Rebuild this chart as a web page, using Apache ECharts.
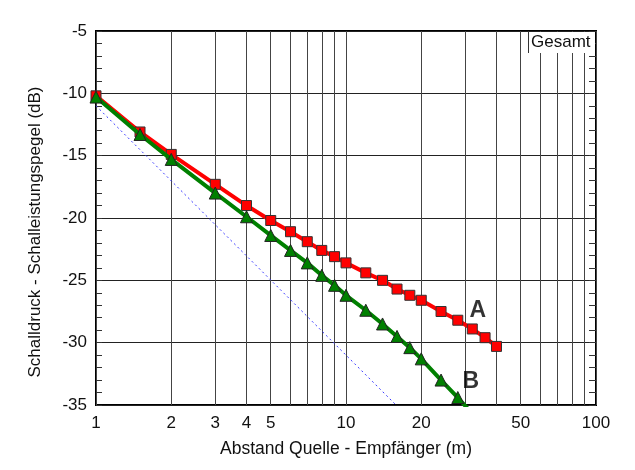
<!DOCTYPE html>
<html><head><meta charset="utf-8">
<script src="https://cdn.jsdelivr.net/npm/echarts@6/dist/echarts.min.js"></script>
<style>html,body{margin:0;padding:0;background:#fff}#c{width:635px;height:470px}</style>
</head><body><div id="c"></div>
<script>
// Distances (m)
const distA = [1,1.5,2,3,4,5,6,7,8,9,10,12,14,16,18,20,24,28,32,36,40];
const levelA = [-10.2,-13.1,-14.9,-17.3,-19.0,-20.2,-21.1,-21.9,-22.6,-23.1,-23.6,-24.4,-25.0,-25.7,-26.2,-26.6,-27.5,-28.2,-28.9,-29.6,-30.3];
const distB = [1,1.5,2,3,4,5,6,7,8,9,10,12,14,16,18,20,24,28,32];
const levelB = [-10.3,-13.3,-15.3,-18.0,-19.9,-21.4,-22.6,-23.6,-24.6,-25.4,-26.2,-27.4,-28.5,-29.5,-30.4,-31.3,-33.0,-34.4,-35.7];
const distRef = [1,10,15.85];
const levelRef = [-11,-31,-35];
const xTicks = [1,2,3,4,5,6,7,8,9,10,20,30,40,50,60,70,80,90,100];
const xLabels = [1,2,3,4,5,10,20,50,100];
const labelA = [33.7,-27.4];
const labelB = [31.6,-33.1];

const zip = (a,b)=>a.map((v,i)=>[v,b[i]]);
const chart = echarts.init(document.getElementById('c'), null, {renderer:'canvas'});
const font = 'Liberation Sans, Arial, sans-serif';
chart.setOption({
  animation:false,
  backgroundColor:'#fff',
  grid:{left:96,right:39,top:31,bottom:65,show:true,borderColor:'#000',borderWidth:2,backgroundColor:'#fff'},
  xAxis:{
    type:'log',logBase:10,min:1,max:100,
    name:'Abstand Quelle - Empfänger (m)',nameLocation:'middle',nameGap:35,
    nameTextStyle:{fontFamily:font,fontSize:17.5,color:'#111'},
    axisLine:{show:false},
    axisTick:{show:false,customValues:xTicks},
    axisLabel:{customValues:xLabels,fontFamily:font,fontSize:17,color:'#111',margin:10},
    splitLine:{show:true,lineStyle:{color:'#444',width:1}},
    minorTick:{show:false},minorSplitLine:{show:false}
  },
  yAxis:[{
    type:'value',min:-35,max:-5,interval:5,
    name:'Schalldruck - Schalleistungspegel (dB)',nameLocation:'middle',nameGap:52,
    nameTextStyle:{fontFamily:font,fontSize:17,color:'#111',padding:[0,28,0,0]},
    axisLine:{show:false},
    axisTick:{show:true,inside:true,length:6,lineStyle:{color:'#333'}},
    minorTick:{show:true,splitNumber:5,length:6,lineStyle:{color:'#333'}},
    axisLabel:{fontFamily:font,fontSize:17,color:'#111',margin:9},
    splitLine:{show:true,lineStyle:{color:'#222',width:1}}
  },{
    type:'value',min:-35,max:-5,interval:5,position:'right',
    axisLine:{show:false},axisTick:{show:true,inside:true,length:7,lineStyle:{color:'#333'}},axisLabel:{show:false},
    minorTick:{show:true,splitNumber:5,length:7,lineStyle:{color:'#333'}},
    splitLine:{show:false}
  }],
  series:[
    {type:'line',data:zip(distRef,levelRef),symbol:'none',lineStyle:{color:'#3b3bff',width:1,type:[2,3]},z:2},
    {type:'line',data:zip(distA,levelA),symbol:'rect',symbolSize:10,
      lineStyle:{color:'#ff0000',width:4},itemStyle:{color:'#ff0000',borderColor:'#333',borderWidth:1},z:3},
    {type:'line',data:zip(distB,levelB),symbol:'triangle',symbolSize:12,
      lineStyle:{color:'#008000',width:4},itemStyle:{color:'#008000',borderColor:'#222',borderWidth:1},z:4},
    {type:'scatter',symbolSize:0,silent:true,data:[{value:labelA,name:'A'},{value:labelB,name:'B'}],
      label:{show:true,position:'inside',formatter:'{b}',fontFamily:font,fontSize:23,fontWeight:'bold',color:'#000'},z:5}
  ],
  graphic:[
    {type:'rect',shape:{x:529,y:32,width:66,height:21},style:{fill:'#fff'},z:50},
    {type:'line',shape:{x1:528.5,y1:31,x2:528.5,y2:53},style:{stroke:'#333',lineWidth:1},z:51},
    {type:'text',x:531,y:34,style:{text:'Gesamt',font:'17px Liberation Sans, Arial, sans-serif',fill:'#111'},z:52}
  ]
});
</script></body></html>
